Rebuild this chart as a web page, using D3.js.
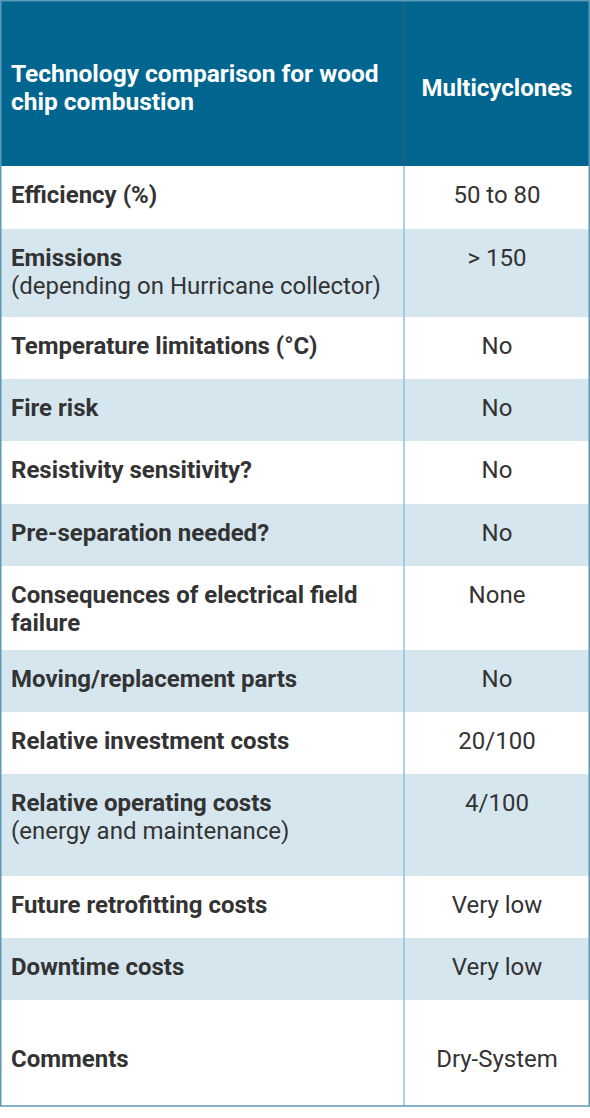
<!DOCTYPE html>
<html lang="en">
<head>
<meta charset="utf-8">
<script src="https://d3js.org/d3.v7.min.js"></script>
<style>
  body { margin: 0; background: #fff; }
  svg { display: block; font-family: Roboto, sans-serif; }
</style>
</head>
<body>
<script>
const headerLeft = ["Technology comparison for wood", "chip combustion"];
const headerRight = "Multicyclones";
const criteria = [
  ["Efficiency (%)"],
  ["Emissions", "(depending on Hurricane collector)"],
  ["Temperature limitations (°C)"],
  ["Fire risk"],
  ["Resistivity sensitivity?"],
  ["Pre-separation needed?"],
  ["Consequences of electrical field", "failure"],
  ["Moving/replacement parts"],
  ["Relative investment costs"],
  ["Relative operating costs", "(energy and maintenance)"],
  ["Future retrofitting costs"],
  ["Downtime costs"],
  ["Comments"]
];
const values = ["50 to 80", "> 150", "No", "No", "No", "No", "None", "No", "20/100", "4/100", "Very low", "Very low", "Dry-System"];
// subtitle lines (second line) are regular weight for these rows
const subRegular = [false, true, false, false, false, false, false, false, false, true, false, false, false];

const W = 590, H = 1118, headH = 166, divX = 404;
const rowH = [63, 88, 62, 62, 63, 62, 84, 62, 62, 102, 62, 62, 106];

const svg = d3.select("body").append("svg").attr("width", W).attr("height", H);

svg.append("rect").attr("width", W).attr("height", headH).attr("fill", "#01668f");
const ht = svg.append("text").attr("fill", "#fff").attr("font-size", 24.5).attr("font-weight", 700);
headerLeft.forEach((l, i) => ht.append("tspan").attr("x", 11).attr("y", 82 + i * 28).text(l));
svg.append("text").attr("x", 497).attr("y", 96).attr("text-anchor", "middle")
  .attr("fill", "#fff").attr("font-size", 24).attr("font-weight", 700).text(headerRight);

let tops = [], y = headH;
rowH.forEach(h => { tops.push(y); y += h; });
const bottom = y;

const rows = svg.selectAll("g.row").data(criteria).join("g").attr("class", "row")
  .attr("transform", (d, i) => `translate(0,${tops[i]})`);
rows.append("rect").attr("width", W).attr("height", (d, i) => rowH[i])
  .attr("fill", (d, i) => i % 2 ? "#d6e6ef" : "#fff");

rows.each(function(d, i) {
  const g = d3.select(this);
  const base = i === criteria.length - 1 ? rowH[i] / 2 + 14 : 37;
  const t = g.append("text").attr("fill", "#333").attr("font-size", 24);
  d.forEach((l, j) => t.append("tspan").attr("x", 11).attr("y", base + j * 28)
    .attr("font-weight", j > 0 && subRegular[i] ? 400 : 700).text(l));
  g.append("text").attr("x", 497).attr("y", base).attr("text-anchor", "middle")
    .attr("fill", "#333").attr("font-size", 24).text(values[i]);
});

svg.append("line").attr("x1", divX).attr("x2", divX).attr("y1", 0).attr("y2", headH)
  .attr("stroke", "#2f5f78").attr("stroke-width", 1.5);
svg.append("line").attr("x1", divX).attr("x2", divX).attr("y1", headH).attr("y2", bottom)
  .attr("stroke", "#8ec3da").attr("stroke-width", 1.5);
svg.append("rect").attr("x", 0.75).attr("y", 0.75).attr("width", W - 1.5).attr("height", bottom - 0.75)
  .attr("fill", "none").attr("stroke", "#5b9ab8").attr("stroke-width", 1.5);
</script>
</body>
</html>
